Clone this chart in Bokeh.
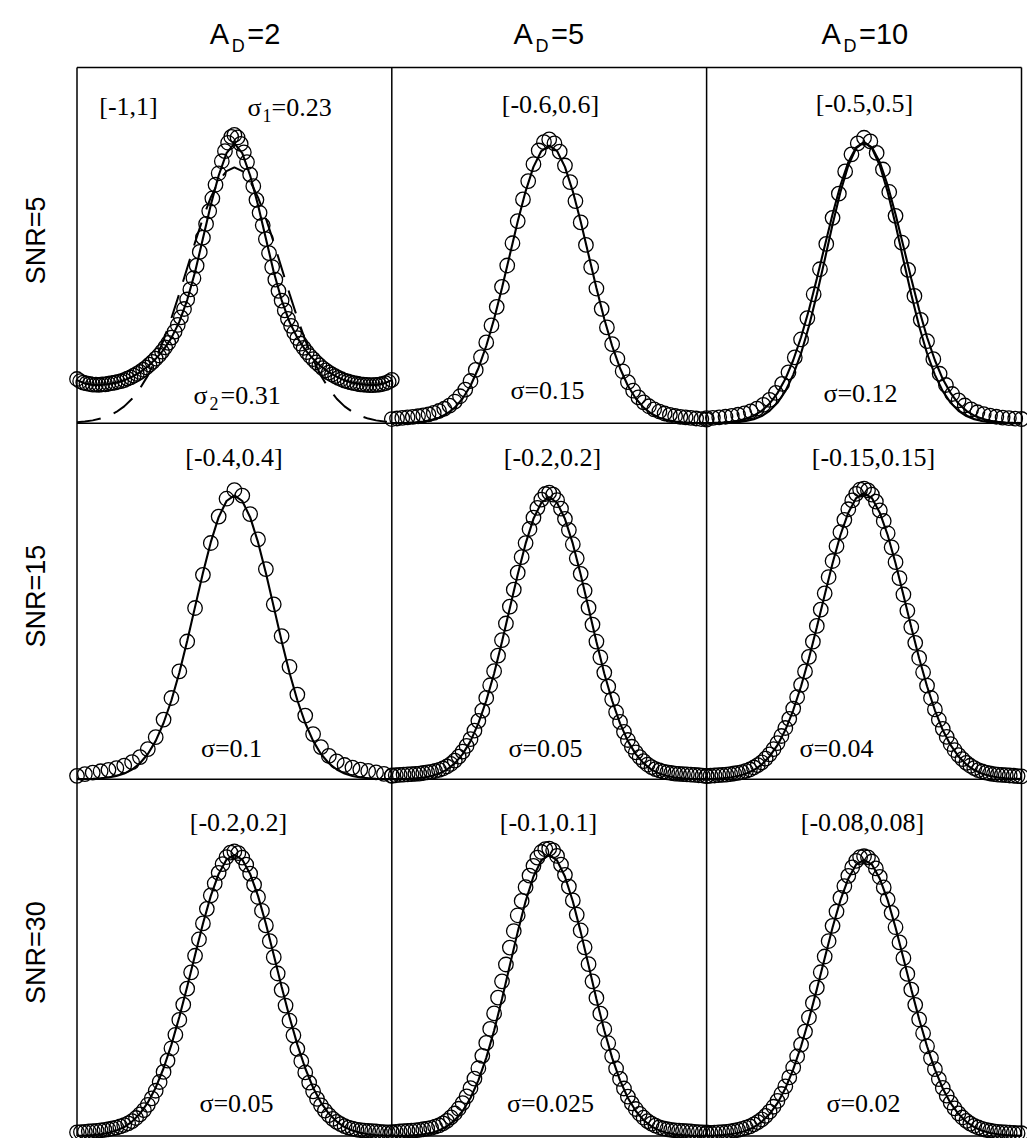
import numpy as np
from bokeh.plotting import figure
from bokeh.models import Range1d
from bokeh.core.properties import value
from bokeh.embed import file_html
from bokeh.resources import INLINE

# ---------------- data ----------------
ad_values = ["2", "5", "10"]                       # column titles A_D=...
snr_labels = ["SNR=5", "SNR=15", "SNR=30"]         # row labels

# x interval of every panel (row-major: SNR=5, 15, 30 ; A_D=2, 5, 10)
xint_tl = (-1.0, 1.0)
xint_tm = (-0.6, 0.6)
xint_tr = (-0.5, 0.5)
xint_ml = (-0.4, 0.4)
xint_mm = (-0.2, 0.2)
xint_mr = (-0.15, 0.15)
xint_bl = (-0.2, 0.2)
xint_bm = (-0.1, 0.1)
xint_br = (-0.08, 0.08)

interval_labels = ["[-1,1]", "[-0.6,0.6]", "[-0.5,0.5]",
                   "[-0.4,0.4]", "[-0.2,0.2]", "[-0.15,0.15]",
                   "[-0.2,0.2]", "[-0.1,0.1]", "[-0.08,0.08]"]
sigma_labels = [None, "σ=0.15", "σ=0.12",
                "σ=0.1", "σ=0.05", "σ=0.04",
                "σ=0.05", "σ=0.025", "σ=0.02"]

# relative density (% of fitted peak), circles, evenly spaced over the interval
circ_tl = [15.8, 15.0, 14.5, 14.2, 14.0, 13.8, 13.8, 13.7, 13.9, 13.9,
           14.1, 14.3, 14.5, 14.8, 15.0, 15.4, 15.9, 16.4, 17.0, 17.6,
           18.3, 19.1, 19.9, 20.9, 21.9, 23.1, 24.2, 25.6, 27.1, 28.7,
           30.6, 32.7, 35.1, 37.8, 40.8, 44.2, 47.8, 51.8, 56.3, 61.2,
           66.3, 71.2, 75.8, 80.3, 85.2, 89.3, 93.6, 97.2, 100.2, 102.3,
           103.0,
           102.1, 99.8, 96.8, 93.3, 88.8, 84.7, 79.8, 75.2, 70.7, 65.8,
           60.8, 55.8, 51.3, 47.3, 43.8, 40.3, 37.3, 34.8, 32.4, 30.4,
           28.4, 26.9, 25.4, 24.0, 22.9, 21.7, 20.7, 19.7, 18.9, 18.1,
           17.4, 16.8, 16.2, 15.7, 15.2, 14.9, 14.6, 14.3, 14.1, 13.9,
           13.8, 13.7, 13.6, 13.6, 13.7, 13.8, 14.0, 14.3, 14.8, 15.5]
circ_tm = [1.5, 1.7, 1.9, 2.1, 2.3, 2.5, 2.8, 3.2, 3.7, 4.4,
           5.2, 6.3, 7.8, 9.7, 12.1, 15.2, 19.2, 23.8, 29.1, 35.2,
           41.9, 49.1, 56.8, 64.8, 72.8, 80.6, 87.2, 93.3, 98.2, 101.2,
           102.2,
           100.8, 97.8, 92.8, 86.8, 80.0, 72.3, 64.2, 56.2, 48.5, 41.2,
           34.5, 28.5, 23.2, 18.7, 14.8, 11.7, 9.3, 7.5, 6.1, 5.0,
           4.2, 3.5, 3.0, 2.6, 2.3, 2.1, 1.9, 1.7, 1.5, 1.3]
circ_tr = [1.8, 1.9, 2.1, 2.3, 2.6, 3.0, 3.5, 4.2, 5.2, 6.5,
           8.3, 10.8, 14.0, 18.1, 23.4, 29.8, 37.4, 45.9, 54.8, 63.8,
           73.1, 81.7, 89.6, 95.7, 99.6,
           101.6,
           100.3, 96.2, 90.3, 82.3, 73.8, 64.3, 54.6, 45.3, 36.8, 29.2,
           22.8, 17.6, 13.6, 10.4, 8.1, 6.3, 4.9, 3.9, 3.2, 2.7,
           2.3, 2.0, 1.8, 1.6, 1.5]
circ_ml = [1.2, 1.8, 2.3, 2.8, 3.3, 3.9, 4.8, 6.0, 7.8, 10.6,
           14.8, 21.0, 28.6, 38.0, 48.5, 60.3, 72.0, 83.2, 92.5, 98.8,
           101.8,
           99.9, 93.4, 84.5, 74.0, 61.6, 50.4, 39.6, 29.8, 22.4, 15.9,
           11.3, 8.2, 6.3, 5.0, 4.1, 3.4, 2.9, 2.4, 1.9, 1.3]
circ_mm = [1.2, 1.4, 1.5, 1.6, 1.7, 1.8, 1.9, 2.0, 2.2, 2.4,
           2.6, 2.9, 3.3, 3.8, 4.5, 5.4, 6.6, 8.0, 9.8, 11.8,
           14.2, 17.2, 20.7, 24.3, 28.8, 33.3, 38.3, 43.8, 49.3, 55.2,
           61.2, 67.2, 73.2, 78.7, 83.7, 88.7, 92.7, 96.2, 99.1, 101.1,
           101.6,
           100.9, 98.9, 95.9, 92.3, 88.3, 83.3, 78.3, 72.8, 66.8, 60.8,
           54.8, 48.8, 43.2, 37.8, 32.8, 28.3, 23.8, 20.3, 16.8, 13.9,
           11.5, 9.5, 7.8, 6.4, 5.2, 4.3, 3.6, 3.1, 2.7, 2.4,
           2.2, 2.0, 1.9, 1.8, 1.7, 1.6, 1.5, 1.4, 1.3, 1.2]
circ_mr = [1.1, 1.2, 1.3, 1.4, 1.5, 1.6, 1.8, 2.0, 2.2, 2.5,
           2.9, 3.4, 4.1, 4.9, 5.9, 7.2, 8.7, 10.5, 12.6, 15.1,
           17.9, 21.1, 24.7, 28.7, 33.0, 37.7, 42.8, 48.1, 53.6, 59.3,
           65.0, 70.7, 76.3, 81.5, 86.4, 90.7, 94.4, 97.5, 99.8, 101.3,
           101.6,
           101.0, 99.5, 97.1, 94.0, 90.3, 86.0, 81.1, 75.9, 70.3, 64.6,
           58.9, 53.2, 47.7, 42.4, 37.4, 32.7, 28.4, 24.4, 20.8, 17.6,
           14.8, 12.3, 10.2, 8.4, 7.0, 5.7, 4.7, 3.9, 3.2, 2.7,
           2.3, 2.0, 1.8, 1.6, 1.5, 1.4, 1.3, 1.2, 1.1, 1.0]
circ_bl = [1.3, 1.4, 1.5, 1.6, 1.7, 1.8, 2.0, 2.2, 2.4, 2.7,
           3.0, 3.4, 3.9, 4.5, 5.3, 6.4, 7.7, 9.2, 11.1, 13.4,
           16.1, 19.2, 22.8, 26.8, 31.2, 36.0, 41.3, 46.7, 52.4, 58.2,
           64.1, 69.9, 75.6, 80.8, 85.6, 89.8, 93.6, 96.7, 99.2, 100.8,
           101.2,
           100.6, 99.0, 96.5, 93.3, 89.4, 85.0, 80.1, 74.9, 69.3, 63.6,
           57.8, 52.0, 46.4, 41.0, 35.8, 31.0, 26.6, 22.6, 19.0, 15.9,
           13.2, 10.9, 9.0, 7.4, 6.1, 5.0, 4.2, 3.5, 3.0, 2.6,
           2.3, 2.1, 1.9, 1.8, 1.7, 1.6, 1.5, 1.4, 1.3, 1.2]
circ_bm = [1.4, 1.5, 1.6, 1.7, 1.8, 1.9, 2.0, 2.2, 2.4, 2.6,
           2.9, 3.3, 3.8, 4.5, 5.4, 6.6, 8.0, 9.7, 11.7, 14.1,
           17.0, 20.4, 24.1, 28.5, 33.1, 38.1, 43.6, 49.2, 55.0, 61.0,
           67.0, 72.9, 78.5, 83.6, 88.5, 92.6, 96.1, 99.0, 101.0, 102.0,
           102.2,
           101.6, 99.6, 96.5, 92.9, 88.7, 83.8, 78.7, 73.1, 67.1, 61.1,
           55.0, 49.1, 43.5, 38.0, 33.0, 28.4, 24.0, 20.3, 16.9, 14.0,
           11.6, 9.6, 7.9, 6.5, 5.3, 4.4, 3.7, 3.1, 2.7, 2.4,
           2.2, 2.0, 1.9, 1.8, 1.7, 1.6, 1.5, 1.4, 1.3, 1.3]
circ_br = [1.0, 1.1, 1.2, 1.3, 1.4, 1.5, 1.7, 1.9, 2.2, 2.6,
           3.0, 3.5, 4.2, 5.0, 6.0, 7.3, 8.8, 10.6, 12.7, 15.2,
           18.0, 21.2, 24.8, 28.8, 33.1, 37.8, 42.9, 48.2, 53.7, 59.3,
           65.0, 70.6, 76.1, 81.3, 86.2, 90.5, 94.2, 97.3, 99.6, 101.0,
           101.3,
           100.9, 99.4, 96.9, 93.8, 90.0, 85.7, 80.8, 75.6, 70.1, 64.4,
           58.7, 53.0, 47.5, 42.2, 37.2, 32.5, 28.2, 24.2, 20.6, 17.4,
           14.6, 12.1, 10.0, 8.2, 6.7, 5.5, 4.5, 3.7, 3.1, 2.6,
           2.2, 1.9, 1.7, 1.5, 1.4, 1.3, 1.2, 1.1, 1.0, 1.0]

# fitted curves (% of peak), 41 evenly spaced values over the interval
line_tl = [15.4, 14.2, 13.7, 13.7, 14.0, 14.5, 15.3, 16.6, 18.2, 20.3,
           23.0, 26.2, 30.5, 36.2, 44.0, 54.0, 66.0, 78.0, 88.5, 96.5,
           100.0,
           96.5, 88.5, 78.0, 66.0, 54.0, 44.0, 36.2, 30.5, 26.2, 23.0,
           20.3, 18.2, 16.6, 15.3, 14.5, 14.0, 13.7, 13.7, 14.2, 15.4]
dash_tl = [0.35, 0.61, 1.01, 1.65, 2.61, 4.01, 6.01, 8.74, 12.4, 17.0,
           22.8, 29.7, 37.6, 46.3, 55.4, 64.6, 73.2, 80.7, 86.5, 90.1,
           91.4,
           90.1, 86.5, 80.7, 73.2, 64.6, 55.4, 46.3, 37.6, 29.7, 22.8,
           17.0, 12.4, 8.74, 6.01, 4.01, 2.61, 1.65, 1.01, 0.61, 0.35]
line_tm = [0.03, 0.07, 0.15, 0.31, 0.60, 1.11, 1.98, 3.40, 5.61, 8.89,
           13.5, 19.8, 27.8, 37.5, 48.7, 60.7, 72.6, 83.5, 92.3, 98.0,
           100.0,
           98.0, 92.3, 83.5, 72.6, 60.7, 48.7, 37.5, 27.8, 19.8, 13.5,
           8.89, 5.61, 3.40, 1.98, 1.11, 0.60, 0.31, 0.15, 0.07, 0.03]
line_tr_a = [0.02, 0.04, 0.09, 0.19, 0.39, 0.76, 1.42, 2.55, 4.39, 7.24,
             11.4, 17.2, 24.9, 34.5, 45.8, 58.1, 70.7, 82.3, 91.7, 97.9,
             100.0,
             97.9, 91.7, 82.3, 70.7, 58.1, 45.8, 34.5, 24.9, 17.2, 11.4,
             7.24, 4.39, 2.55, 1.42, 0.76, 0.39, 0.19, 0.09, 0.04, 0.02]
line_tr_b = [0.06, 0.13, 0.25, 0.48, 0.88, 1.56, 2.67, 4.39, 6.98, 10.7,
             15.7, 22.4, 30.6, 40.4, 51.4, 63.0, 74.4, 84.7, 92.9, 98.2,
             100.0,
             98.2, 92.9, 84.7, 74.4, 63.0, 51.4, 40.4, 30.6, 22.4, 15.7,
             10.7, 6.98, 4.39, 2.67, 1.56, 0.88, 0.48, 0.25, 0.13, 0.06]
line_ml = [0.03, 0.07, 0.15, 0.31, 0.60, 1.11, 1.98, 3.40, 5.61, 8.89,
           13.5, 19.8, 27.8, 37.5, 48.7, 60.7, 72.6, 83.5, 92.3, 98.0,
           100.0,
           98.0, 92.3, 83.5, 72.6, 60.7, 48.7, 37.5, 27.8, 19.8, 13.5,
           8.89, 5.61, 3.40, 1.98, 1.11, 0.60, 0.31, 0.15, 0.07, 0.03]
line_mm = [0.03, 0.07, 0.15, 0.31, 0.60, 1.11, 1.98, 3.40, 5.61, 8.89,
           13.5, 19.8, 27.8, 37.5, 48.7, 60.7, 72.6, 83.5, 92.3, 98.0,
           100.0,
           98.0, 92.3, 83.5, 72.6, 60.7, 48.7, 37.5, 27.8, 19.8, 13.5,
           8.89, 5.61, 3.40, 1.98, 1.11, 0.60, 0.31, 0.15, 0.07, 0.03]
line_mr = [0.09, 0.18, 0.34, 0.62, 1.11, 1.92, 3.19, 5.13, 7.96, 11.9,
           17.2, 24.1, 32.5, 42.3, 53.1, 64.4, 75.5, 85.4, 93.2, 98.3,
           100.0,
           98.3, 93.2, 85.4, 75.5, 64.4, 53.1, 42.3, 32.5, 24.1, 17.2,
           11.9, 7.96, 5.13, 3.19, 1.92, 1.11, 0.62, 0.34, 0.18, 0.09]
line_bl = [0.09, 0.18, 0.34, 0.62, 1.11, 1.92, 3.19, 5.13, 7.96, 11.9,
           17.2, 24.1, 32.5, 42.3, 53.1, 64.4, 75.5, 85.4, 93.2, 98.3,
           100.0,
           98.3, 93.2, 85.4, 75.5, 64.4, 53.1, 42.3, 32.5, 24.1, 17.2,
           11.9, 7.96, 5.13, 3.19, 1.92, 1.11, 0.62, 0.34, 0.18, 0.09]
line_bm = [0.03, 0.07, 0.15, 0.31, 0.60, 1.11, 1.98, 3.40, 5.61, 8.89,
           13.5, 19.8, 27.8, 37.5, 48.7, 60.7, 72.6, 83.5, 92.3, 98.0,
           100.0,
           98.0, 92.3, 83.5, 72.6, 60.7, 48.7, 37.5, 27.8, 19.8, 13.5,
           8.89, 5.61, 3.40, 1.98, 1.11, 0.60, 0.31, 0.15, 0.07, 0.03]
line_br = [0.09, 0.18, 0.34, 0.62, 1.11, 1.92, 3.19, 5.13, 7.96, 11.9,
           17.2, 24.1, 32.5, 42.3, 53.1, 64.4, 75.5, 85.4, 93.2, 98.3,
           100.0,
           98.3, 93.2, 85.4, 75.5, 64.4, 53.1, 42.3, 32.5, 24.1, 17.2,
           11.9, 7.96, 5.13, 3.19, 1.92, 1.11, 0.62, 0.34, 0.18, 0.09]

# ---------------- layout (page pixels; the page has no body margin) ----------------
W, H = 1027, 1138
col_edges = [76.5, 391.3, 706.1, 1021.0]
row_edges = [67.0, 422.7, 778.7, 1135.5]
panel_ymax = [127.1, 128.1, 126.6, 125.4, 126.2, 124.5, 126.9, 126.9, 129.2]

panels = [
    (xint_tl, circ_tl, [(line_tl, None), (dash_tl, "24 14")]),
    (xint_tm, circ_tm, [(line_tm, None)]),
    (xint_tr, circ_tr, [(line_tr_a, None), (line_tr_b, None)]),
    (xint_ml, circ_ml, [(line_ml, None)]),
    (xint_mm, circ_mm, [(line_mm, None)]),
    (xint_mr, circ_mr, [(line_mr, None)]),
    (xint_bl, circ_bl, [(line_bl, None)]),
    (xint_bm, circ_bm, [(line_bm, None)]),
    (xint_br, circ_br, [(line_br, None)]),
]

p = figure(width=W, height=H, x_range=Range1d(0, W), y_range=Range1d(H, 0),
           output_backend="svg", toolbar_location=None,
           x_axis_location=None, y_axis_location=None,
           min_border=0, outline_line_color=None,
           background_fill_color="white", border_fill_color="white")
p.grid.visible = False

# panel borders
for c in col_edges:
    p.line([c, c], [row_edges[0], row_edges[-1]], line_color="black", line_width=1.5)
for r in row_edges:
    p.line([col_edges[0], col_edges[-1]], [r, r], line_color="black", line_width=1.5)

xr_map, yr_map = {}, {}
for i, (xint, circ, lines) in enumerate(panels):
    r, c = divmod(i, 3)
    lo, hi = xint
    a, b = col_edges[c], col_edges[c + 1]
    s = (hi - lo) / (b - a)
    xs = lo - a * s
    xr_map[f"x{i}"] = Range1d(xs, xs + W * s)
    top, bot = row_edges[r], row_edges[r + 1]
    sy = panel_ymax[i] / (bot - top)
    ys = -(H - bot) * sy
    yr_map[f"y{i}"] = Range1d(ys, ys + H * sy)
p.extra_x_ranges = xr_map
p.extra_y_ranges = yr_map

for i, (xint, circ, lines) in enumerate(panels):
    lo, hi = xint
    for vals, dash in lines:
        xl = np.linspace(lo, hi, len(vals))
        if dash:
            p.line(xl, vals, line_color="black", line_width=2.0, line_dash=dash,
                   x_range_name=f"x{i}", y_range_name=f"y{i}")
        else:
            p.line(xl, vals, line_color="black", line_width=2.1,
                   x_range_name=f"x{i}", y_range_name=f"y{i}")
    xc = np.linspace(lo, hi, len(circ))
    p.scatter(xc, circ, marker="circle", size=14.5, fill_color=None,
              line_color="black", line_width=1.3,
              x_range_name=f"x{i}", y_range_name=f"y{i}")

serif = value("Liberation Serif")
sans = value("Liberation Sans")

# interval labels
br_pos = [(128, 106), (550, 104), (864, 103),
          (233.5, 457), (552, 457), (873, 457),
          (238, 822), (548, 822), (862, 822)]
p.text([x for x, y in br_pos], [y for x, y in br_pos], text=interval_labels,
       text_font=serif, text_font_size="26px", text_align="center",
       text_baseline="alphabetic", text_color="black")

sg_pos = [None, (547, 390), (860, 393),
          (231, 748), (545, 748), (836, 748),
          (236, 1103), (550, 1103), (863, 1103)]
sx = [sg_pos[i][0] for i in range(9) if sigma_labels[i]]
sy_ = [sg_pos[i][1] for i in range(9) if sigma_labels[i]]
st = [sigma_labels[i] for i in range(9) if sigma_labels[i]]
p.text(sx, sy_, text=st, text_font=serif, text_font_size="26px", text_align="center",
       text_baseline="alphabetic", text_color="black")

# sigma_1 / sigma_2 in the first panel (with subscripts)
p.text([247, 193], [107, 395], text=["σ", "σ"], text_font=serif,
       text_font_size="26px", text_align="left", text_baseline="alphabetic")
p.text([262, 209], [115, 403], text=["1", "2"], text_font=serif,
       text_font_size="18px", text_align="left", text_baseline="alphabetic")
p.text([271, 220], [107, 395], text=["=0.23", "=0.31"], text_font=serif,
       text_font_size="26px", text_align="left", text_baseline="alphabetic")

# column titles A_D=...
title_left = [209.3, 513, 821]
p.text(title_left, [33.3] * 3, text=["A"] * 3, text_font=sans,
       text_font_size="29px", text_align="left", text_baseline="alphabetic")
p.text([x + 22 for x in title_left], [45.5] * 3, text=["D"] * 3, text_font=sans,
       text_font_size="18px", text_align="left", text_baseline="alphabetic")
p.text([x + 37.5 for x in title_left], [33.3] * 3, text=["=" + v for v in ad_values],
       text_font=sans, text_font_size="29px", text_align="left", text_baseline="alphabetic")

# row labels
row_c = [(row_edges[k] + row_edges[k + 1]) / 2 - 5 for k in range(3)]
p.text([35] * 3, row_c, text=snr_labels, angle=np.pi / 2,
       text_font=sans, text_font_size="27px", text_align="center", text_baseline="alphabetic")

open("out.html", "w").write(file_html(p, INLINE))
